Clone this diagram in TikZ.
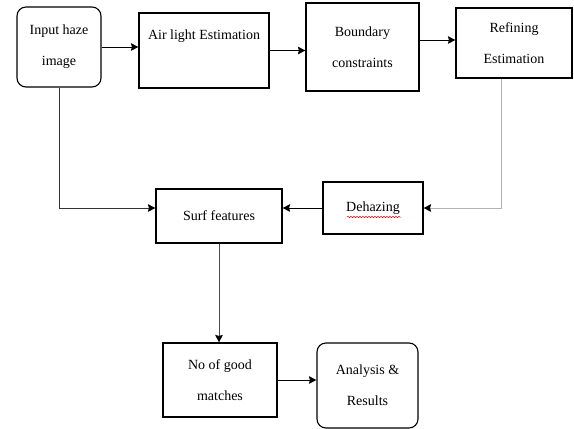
\documentclass[tikz,border=0pt]{standalone}
\usepackage{fontspec}
\setmainfont{Liberation Serif}
\usepackage{tikz}
\usetikzlibrary{arrows.meta,decorations.pathmorphing}
\tikzset{
  stepbox/.style  = {draw,line width=1.1pt,align=center,inner sep=2pt,
                     font=\fontsize{14}{31}\selectfont},
  roundbox/.style = {stepbox,rounded corners=9pt},
  flowarr/.style  = {-{Stealth[length=7.5pt,width=7.5pt,inset=1pt,black]},line width=0.9pt},
  wavyline/.style = {red,line width=0.5pt,
                     decorate,decoration={snake,segment length=3pt,amplitude=0.7pt}}
}

\begin{document}
\begin{tikzpicture}[x=1pt,y=-1pt]
  \useasboundingbox (0,0) rectangle (574,429);
  % top row
  \node[roundbox,minimum width=84pt,minimum height=80pt] (inimg) at (59,47) {Input haze\\image};
  \node[stepbox,minimum width=130pt,minimum height=75pt] (airlt) at (204,50.5) {Air light Estimation\\\mbox{}};
  \node[stepbox,minimum width=113pt,minimum height=88pt] (bound) at (362.5,47) {Boundary\\constraints};
  \node[stepbox,minimum width=116pt,minimum height=70pt] (refin) at (514,43) {Refining\\Estimation};
  % middle row
  \node[stepbox,minimum width=100pt,minimum height=52pt] (dehaz) at (373,208) {Dehazing};
  \node[stepbox,minimum width=126pt,minimum height=54pt] (surf) at (219,216) {Surf features};
  % bottom row
  \node[stepbox,minimum width=114pt,minimum height=74pt] (good) at (220,380) {No of good\\matches};
  \node[roundbox,minimum width=101pt,minimum height=85pt] (anres) at (367.5,385.5) {Analysis \&\\Results};
  \draw[wavyline] ([xshift=-26pt,yshift=-9pt]dehaz.center) -- ([xshift=28pt,yshift=-9pt]dehaz.center);

  \draw[flowarr] (inimg.east) -- (inimg.east -| airlt.west);
  \draw[flowarr] (airlt.east) -- (airlt.east -| bound.west);
  \draw[flowarr] ([yshift=3pt]refin.west -| bound.east) -- ([yshift=3pt]refin.west);
  \draw[flowarr,gray!60] ([xshift=-13pt]refin.south) |- (dehaz.east);
  \draw[flowarr] (dehaz.west) -- (dehaz.west -| surf.east);
  \draw[flowarr,black!80] (inimg.south) |- ([yshift=8pt]surf.west);
  \draw[flowarr,black!70] (surf.south) -- (surf.south |- good.north);
  \draw[flowarr] (good.east) -- (good.east -| anres.west);
\end{tikzpicture}
\end{document}
